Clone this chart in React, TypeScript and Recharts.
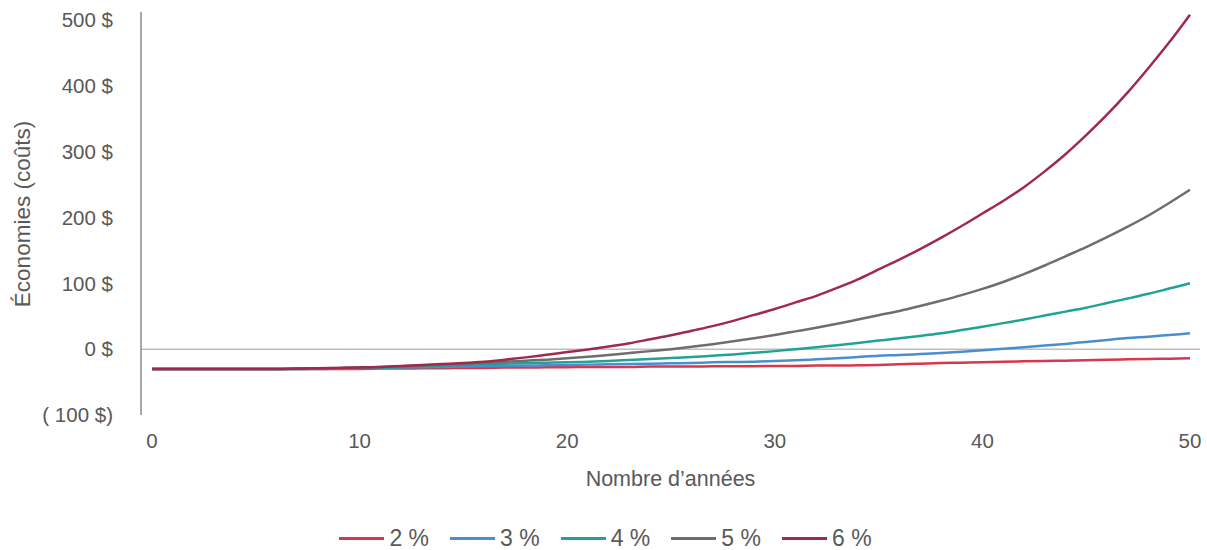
import { LineChart, Line, XAxis, YAxis, ReferenceLine } from 'recharts'

// Years 0..50
const years = Array.from({ length: 51 }, (_, i) => i)

// Savings (costs) in $
const rate2 = [
  -30, -30, -30, -30, -30, -30, -30, -30, -30, -30, -30,
  -29.5, -29.5, -29, -29, -28.5, -28.5, -28, -28, -27.5, -27.5,
  -27, -27, -27, -26.5, -26.5, -26.5, -26, -26, -26, -25.5,
  -25.5, -25, -25, -24.5, -24, -23, -22, -21, -20.5, -20,
  -19, -18.5, -18, -17.5, -17, -16, -15.5, -15, -14.5, -14,
]
const rate3 = [
  -30, -30, -30, -30, -30, -30, -30, -30, -30, -29.5, -29,
  -28.5, -28, -27.5, -27, -26.5, -26, -25.5, -25, -24.5, -24,
  -23.5, -23, -22.5, -22, -21.5, -21, -20, -19.5, -19, -18,
  -17, -15.5, -14, -12, -10, -9, -7.5, -6, -4, -1.5,
  0.5, 3, 5.5, 8, 11, 14, 17, 19, 21.5, 24,
]
const rate4 = [
  -30, -30, -30, -30, -30, -30, -30, -30, -29.5, -29, -28.5,
  -28, -27, -26, -25, -24, -23, -22, -21, -20.5, -20,
  -19, -18, -16.5, -15, -13.5, -12, -10, -8, -5.5, -3,
  0, 3, 6, 9.5, 13, 16.5, 20, 24, 29, 34,
  39.5, 45, 51, 57, 63, 70, 77, 84, 92, 100,
]
const rate5 = [
  -30, -30, -30, -30, -30, -30, -30, -29.5, -29, -28.5, -28,
  -27, -26, -25, -23.5, -22, -20.5, -19, -17.5, -16, -14,
  -11.5, -9, -6, -3, 0, 3.5, 7.5, 12, 16.5, 21.5,
  27, 32.5, 38.5, 45, 51.5, 58, 65.5, 73.5, 82, 91.5,
  102, 114, 127, 141, 155, 170, 186, 203, 222, 242,
]
const rate6 = [
  -30, -30, -30, -30, -30, -30, -30, -29.5, -29, -28.5, -28,
  -27, -25.5, -24, -22.5, -21, -19, -16, -12.5, -8.5, -4.5,
  -0.5, 4, 9, 15, 21, 28, 35, 43, 52, 61,
  71, 81, 93, 106, 121, 136, 152, 169, 187, 206,
  225, 246, 270, 296, 325, 356, 390, 427, 466, 508,
]

const xTicks = [0, 10, 20, 30, 40, 50]
const yTicks = [-100, 0, 100, 200, 300, 400, 500]

const series = [
  { key: 'r2', label: '2 %', values: rate2, color: '#d9364f' },
  { key: 'r3', label: '3 %', values: rate3, color: '#4a8ecf' },
  { key: 'r4', label: '4 %', values: rate4, color: '#20a395' },
  { key: 'r5', label: '5 %', values: rate5, color: '#6e6e6e' },
  { key: 'r6', label: '6 %', values: rate6, color: '#9e2a4c' },
]

const data = years.map((year, i) => {
  const row: Record<string, number> = { year }
  series.forEach((s) => { row[s.key] = s.values[i] })
  return row
})

const FONT = '"Liberation Sans", Arial, sans-serif'
const TEXT_COLOR = '#595959'
const AXIS_TICK = { fontSize: 20.5, fill: TEXT_COLOR, fontFamily: FONT }

const yTickFormatter = (v: number) => (v < 0 ? `( ${Math.abs(v)} $)` : `${v} $`)

const YLabel = () => (
  <text
    x={22}
    y={214}
    transform="rotate(-90, 22, 214)"
    textAnchor="middle"
    dominantBaseline="central"
    fontSize={22.5}
    fill={TEXT_COLOR}
    fontFamily={FONT}
  >
    Économies (coûts)
  </text>
)

export default function App() {
  return (
    <div style={{ position: 'absolute', left: 0, top: 0, width: 1207, height: 550, background: '#fff' }}>
      <LineChart width={1207} height={550} data={data} margin={{ top: 12, right: 7, bottom: 0, left: 0 }}>
        <XAxis
          dataKey="year"
          type="number"
          domain={[0, 50]}
          ticks={xTicks}
          padding={{ left: 11, right: 10 }}
          axisLine={false}
          tickLine={false}
          tickSize={0}
          tickMargin={18}
          height={135}
          tick={AXIS_TICK}
          label={{ value: "Nombre d’années", position: 'insideTop', offset: 56, fontSize: 21.5, fill: TEXT_COLOR, fontFamily: FONT }}
        />
        <YAxis
          type="number"
          domain={[-100, 512]}
          ticks={yTicks}
          width={141}
          axisLine={{ stroke: '#8c8c8c', strokeWidth: 1.5 }}
          tickLine={false}
          tickSize={0}
          tickMargin={28}
          tick={AXIS_TICK}
          tickFormatter={yTickFormatter}
          label={{ content: YLabel }}
        />
        <ReferenceLine y={0} stroke="#bdbdbd" strokeWidth={1.5} />
        {series.map((s) => (
          <Line
            key={s.key}
            type="monotone"
            dataKey={s.key}
            name={s.label}
            stroke={s.color}
            strokeWidth={2.5}
            dot={false}
            activeDot={false}
            isAnimationActive={false}
          />
        ))}
      </LineChart>
      <div
        style={{
          position: 'absolute',
          top: 524,
          left: 0,
          width: 1207,
          display: 'flex',
          justifyContent: 'center',
          paddingLeft: 4,
          boxSizing: 'border-box',
          fontFamily: FONT,
          fontSize: 23,
          lineHeight: '28px',
          color: TEXT_COLOR,
        }}
      >
        {series.map((s, i) => (
          <div key={s.key} style={{ display: 'flex', alignItems: 'center', marginRight: i < series.length - 1 ? 21 : 0 }}>
            <span style={{ display: 'inline-block', width: 45, height: 3, background: s.color, marginRight: 5 }} />
            <span>{s.label}</span>
          </div>
        ))}
      </div>
    </div>
  )
}
